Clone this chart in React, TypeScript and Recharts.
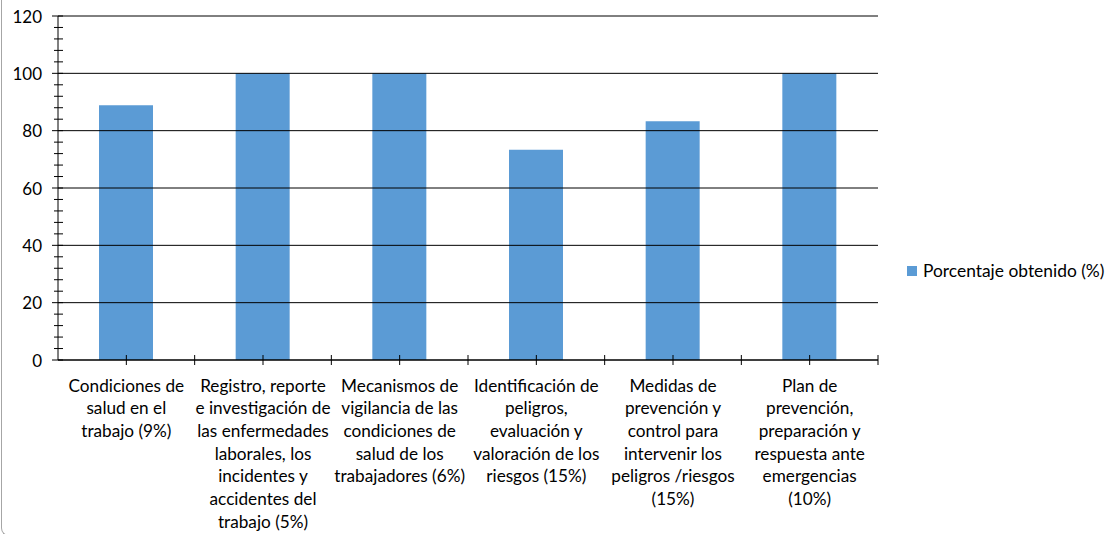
import React from 'react';
import { BarChart, Bar, XAxis, YAxis, ReferenceLine } from 'recharts';

const categories = [
  'Condiciones de\nsalud en el\ntrabajo (9%)',
  'Registro, reporte\ne investigación de\nlas enfermedades\nlaborales, los\nincidentes y\naccidentes del\ntrabajo (5%)',
  'Mecanismos de\nvigilancia de las\ncondiciones de\nsalud de los\ntrabajadores (6%)',
  'Identificación de\npeligros,\nevaluación y\nvaloración de los\nriesgos (15%)',
  'Medidas de\nprevención y\ncontrol para\nintervenir los\npeligros /riesgos\n(15%)',
  'Plan de\nprevención,\npreparación y\nrespuesta ante\nemergencias\n(10%)',
];
const values = [88.9, 100, 100, 73.3, 83.3, 100];
const seriesName = 'Porcentaje obtenido (%)';
const majorTicks = [0, 20, 40, 60, 80, 100, 120];
const allTicks = [0, 4, 8, 12, 16, 20, 24, 28, 32, 36, 40, 44, 48, 52, 56, 60, 64, 68, 72, 76, 80, 84, 88, 92, 96, 100, 104, 108, 112, 116, 120];

const data = categories.map((c, i) => ({ cat: c, value: values[i] }));

const FONT = 'Lato, "Open Sans", sans-serif';
const BAR = '#5B9BD5';

const YTick = (props: any) => {
  const { x, y, payload } = props;
  const major = payload.value % 20 === 0;
  return (
    <g>
      <line x1={major ? x - 6 : x - 4} x2={x + 5} y1={y} y2={y} stroke="#000" strokeWidth={1} />
      {major && (
        <text x={x - 16} y={y} textAnchor="end" dominantBaseline="central" fontSize={17} fill="#000" fontFamily={FONT}>
          {payload.value}
        </text>
      )}
    </g>
  );
};

const XTick = (props: any) => {
  const { x, y, payload } = props;
  const off = payload && payload.offset ? payload.offset : 68.33;
  const lines = String(payload.value).split('\n');
  return (
    <g>
      <line x1={x} x2={x} y1={y - 5} y2={y + 5} stroke="#000" strokeWidth={1} />
      <line x1={x + off} x2={x + off} y1={y - 5} y2={y + 5} stroke="#000" strokeWidth={1} />
      {lines.map((l, i) => (
        <text key={i} x={x} y={y + 25 + i * 22.7} textAnchor="middle" dominantBaseline="central" fontSize={17.2} fill="#000" fontFamily={FONT}>
          {l}
        </text>
      ))}
    </g>
  );
};

export default function App() {
  return (
    <div style={{ position: 'absolute', left: 0, top: 0, width: 1118, height: 534, background: '#fff', overflow: 'hidden' }}>
      <div
        style={{
          position: 'absolute',
          left: 1,
          top: -10,
          width: 1200,
          height: 545,
          borderLeft: '1px solid #a6a6a6',
          borderBottom: '1px solid #a6a6a6',
          borderBottomLeftRadius: 8,
        }}
      />
      <div style={{ position: 'absolute', left: 0, top: 0 }}>
        <BarChart width={1118} height={534} data={data} margin={{ top: 16, right: 240, left: 8, bottom: 0 }} barCategoryGap={0}>
          {majorTicks.map((v) => (
            <ReferenceLine key={v} y={v} stroke="#000" strokeWidth={1} ifOverflow="extendDomain" />
          ))}
          <XAxis
            dataKey="cat"
            height={174}
            interval={0}
            tickLine={false}
            tickSize={0}
            tickMargin={0}
            axisLine={{ stroke: '#000', strokeWidth: 1 }}
            tick={<XTick />}
          />
          <YAxis
            width={50}
            domain={[0, 120]}
            ticks={allTicks}
            interval={0}
            tickLine={false}
            tickSize={0}
            tickMargin={0}
            axisLine={{ stroke: '#000', strokeWidth: 1 }}
            tick={<YTick />}
          />
          <Bar dataKey="value" name={seriesName} fill={BAR} barSize={54} isAnimationActive={false} />
        </BarChart>
      </div>
      <div
        style={{
          position: 'absolute',
          left: 907,
          top: 260,
          display: 'flex',
          alignItems: 'center',
          fontFamily: FONT,
          fontSize: 17.4,
          color: '#000',
          whiteSpace: 'nowrap',
        }}
      >
        <span style={{ display: 'inline-block', width: 10, height: 10, background: BAR, marginRight: 6 }} />
        <span>{seriesName}</span>
      </div>
    </div>
  );
}
